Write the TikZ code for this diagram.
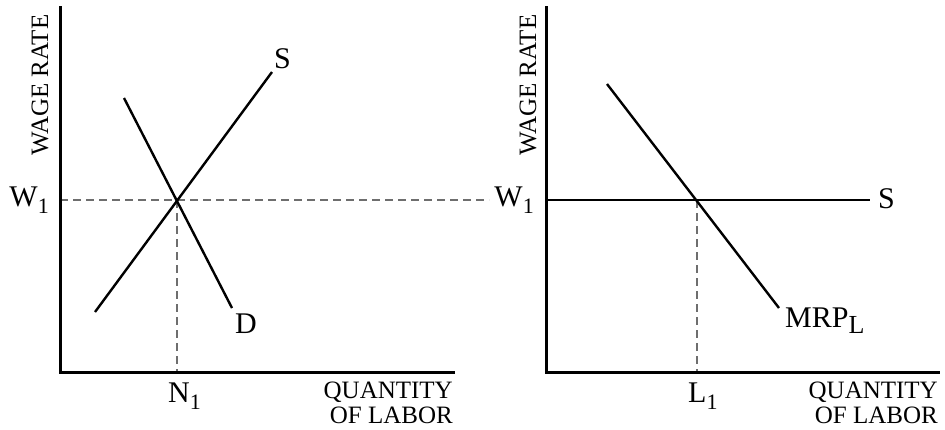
\documentclass[tikz,border=0pt]{standalone}
\usepackage{fontspec}
\setmainfont{Liberation Serif}
\usetikzlibrary{positioning}
\definecolor{guide}{HTML}{6E6E6E}
\newcommand{\lowidx}[1]{\raisebox{-7pt}{\fontsize{22}{22}\selectfont #1}}
\tikzset{axisline/.style={line width=3pt,line cap=rect},curveline/.style={line width=2.4pt},guideline/.style={draw=guide,line width=1.5pt,dash pattern=on 8pt off 5pt},lbl/.style={font=\fontsize{30}{32}\selectfont,inner sep=0pt},axlabel/.style={font=\fontsize{25}{25}\selectfont,inner sep=0pt,align=right}}

\begin{document}
\begin{tikzpicture}[x=1pt,y=-1pt]
\useasboundingbox (0,0) rectangle (945,429);
% left panel
\coordinate (oA) at (60,372);
\coordinate (yA) at (60,7);
\coordinate (xA) at (453,372);
\coordinate (eqA) at (177,200);
\coordinate (nA) at (177,372);
\coordinate (wA) at (60,200);
\coordinate (wEnd) at (489,200);
\coordinate (sLo) at (95,312);
\coordinate (sHi) at (272,72);
\coordinate (dHi) at (124,98);
\coordinate (dLo) at (232,308);
\draw[guideline] (wA)--(wEnd);
\draw[guideline] (eqA)--(nA);
\draw[axisline] (yA)--(oA)--(xA);
\draw[curveline] (sLo)--(sHi);
\draw[curveline] (dHi)--(dLo);
\node[lbl,anchor=base west] (sA) at (274,68) {S};
\node[lbl,anchor=base west] (dA) at (235,333) {D};
\node[lbl,anchor=base east] (w1A) at (49,206) {W\lowidx{1}};
\node[lbl,anchor=base west] (n1) at (168,402) {N\lowidx{1}};
\node[axlabel,rotate=90] (wrA) at (40,85) {WAGE RATE};
\node[axlabel,anchor=north east] (qA) at (453,382) {QUANTITY\\OF LABOR};
% right panel
\coordinate (oB) at (546,372);
\coordinate (yB) at (546,7);
\coordinate (xB) at (938,372);
\coordinate (eqB) at (697,200);
\coordinate (lB) at (697,372);
\coordinate (wB) at (546,200);
\coordinate (sEnd) at (870,200);
\coordinate (mHi) at (607,84);
\coordinate (mLo) at (779,308);
\draw[guideline] (eqB)--(lB);
\draw[axisline] (yB)--(oB)--(xB);
\draw[curveline] (wB)--(sEnd);
\draw[curveline] (mHi)--(mLo);
\node[lbl,anchor=base west] (sB) at (878,208) {S};
\node[lbl,anchor=base west] (mrp) at (785,327) {MRP\raisebox{-6pt}{\fontsize{26}{26}\selectfont L}};
\node[lbl,anchor=base east] (w1B) at (534,206) {W\lowidx{1}};
\node[lbl,anchor=base west] (l1) at (688,402) {L\lowidx{1}};
\node[axlabel,rotate=90] (wrB) at (528,85) {WAGE RATE};
\node[axlabel,anchor=north east] (qB) at (938,382) {QUANTITY\\OF LABOR};
\end{tikzpicture}
\end{document}
